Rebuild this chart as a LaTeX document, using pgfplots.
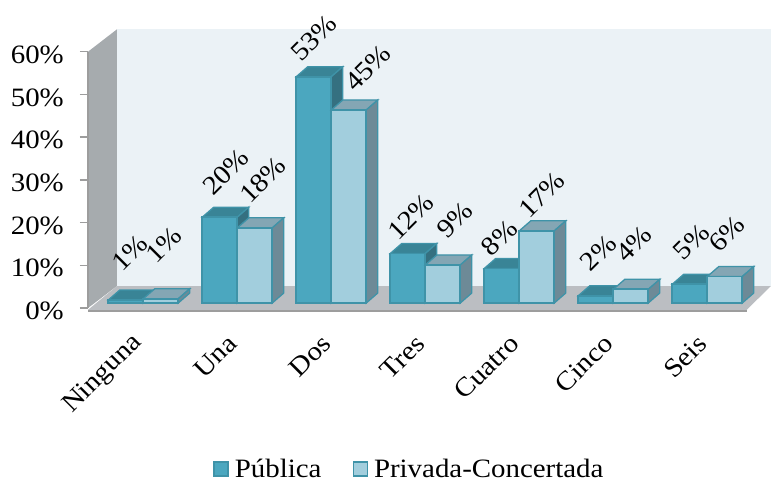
\documentclass[border=0pt]{standalone}
\usepackage{pgfplots}
\pgfplotsset{compat=1.18}
\usepackage{fontspec}
\setmainfont[FakeStretch=1.09]{Liberation Serif}
\definecolor{frontA}{HTML}{4BA7BF}
\definecolor{frontB}{HTML}{A2CEDD}
\definecolor{topA}{HTML}{398496}
\definecolor{sideA}{HTML}{357080}
\definecolor{topB}{HTML}{84A6B4}
\definecolor{sideB}{HTML}{6D8A97}
\definecolor{edge}{HTML}{3F93A8}
\definecolor{wallback}{HTML}{EBF2F6}
\definecolor{wallleft}{HTML}{A6ABAE}
\definecolor{floorc}{HTML}{BBBEC2}
\definecolor{axisc}{HTML}{9D9D9D}
\newcommand{\chartfont}{\fontsize{26.5}{30}\selectfont}
% depth faces of one bar: left-x in category units, value, top colour, side colour
\newcommand{\depth}[4]{%
  \pgfmathsetmacro{\xa}{#1}\pgfmathsetmacro{\xb}{#1+35/94}%
  \pgfmathsetmacro{\xc}{\xa+11.5/94}\pgfmathsetmacro{\xd}{\xb+11.5/94}%
  \pgfmathsetmacro{\yt}{#2}\pgfmathsetmacro{\yu}{#2+10/4.27}\pgfmathsetmacro{\yb}{10/4.27}%
  \edef\tmp{\noexpand\addplot[forget plot,fill=#3,draw=edge,line width=1.3pt] coordinates {(\xa,\yt)(\xc,\yu)(\xd,\yu)(\xb,\yt)} -- cycle;
  \noexpand\addplot[forget plot,fill=#4,draw=edge,line width=1.3pt] coordinates {(\xb,\yt)(\xd,\yu)(\xd,\yb)(\xb,0)} -- cycle;}\tmp}
\newcommand{\lab}[3]{\node[rotate=45,font=\chartfont,inner sep=0pt] at (axis cs:{(#1-143.3)/94},{(303-#2)/4.27}) {#3\%};}
\begin{document}
\begin{tikzpicture}[x=1pt,y=1pt]
\path[use as bounding box] (0,0) rectangle (771,479);
\begin{axis}[
  at={(0pt,0pt)},anchor=south west,scale only axis,width=771pt,height=479pt,
  xmin=-1.52447,xmax=6.67766,ymin=-41.218,ymax=70.96,
  axis lines=none,clip=false,
  legend style={at={(0.531,0.021)},anchor=center,draw=none,fill=none,legend columns=-1,
    font=\chartfont,/tikz/every odd column/.append style={column sep=4pt},
    /tikz/every even column/.append style={column sep=29pt},
    inner sep=0pt},
]
% walls and floor
\addplot[forget plot,fill=wallback,draw=none] coordinates {(-0.2798,64.1)(6.6777,64.1)(6.6777,3.98)(-0.2798,3.98)} -- cycle;
\addplot[forget plot,fill=wallleft,draw=none] coordinates {(-0.5883,-1.17)(-0.5883,58.85)(-0.2798,64.1)(-0.2798,3.98)} -- cycle;
\addplot[forget plot,fill=floorc,draw=none] coordinates {(-0.5883,-1.6)(6.4191,-1.6)(6.6777,3.98)(-0.2798,3.98)} -- cycle;
\addplot[forget plot,draw=axisc,line width=2.5pt] coordinates {(-0.5883,-1.9)(6.4191,-1.9)};
% Publica
\depth{-0.3723}{0.7}{topA}{sideA}
\depth{0.6277}{20.1}{topA}{sideA}
\depth{1.6277}{53}{topA}{sideA}
\depth{2.6277}{11.6}{topA}{sideA}
\depth{3.6277}{8.1}{topA}{sideA}
\depth{4.6277}{1.7}{topA}{sideA}
\depth{5.6277}{4.4}{topA}{sideA}
\addplot[ybar,bar width=35pt,bar shift=-17.5pt,fill=frontA,draw=edge,line width=1.8pt,
  legend image code/.code={\draw[fill=frontA,draw=edge,line width=1.5pt] (0pt,-7pt) rectangle (14pt,7pt);}]
  coordinates {(0,0.7)(1,20.1)(2,53)(3,11.6)(4,8.1)(5,1.7)(6,4.4)};
\addlegendentry{Pública}
% Privada-Concertada
\depth{0}{1}{topB}{sideB}
\depth{1}{17.6}{topB}{sideB}
\depth{2}{45.2}{topB}{sideB}
\depth{3}{8.9}{topB}{sideB}
\depth{4}{16.9}{topB}{sideB}
\depth{5}{3.2}{topB}{sideB}
\depth{6}{6.2}{topB}{sideB}
\addplot[ybar,bar width=35pt,bar shift=17.5pt,fill=frontB,draw=edge,line width=1.8pt,
  legend image code/.code={\draw[fill=frontB,draw=edge,line width=1.5pt] (0pt,-7pt) rectangle (14pt,7pt);}]
  coordinates {(0,1)(1,17.6)(2,45.2)(3,8.9)(4,16.9)(5,3.2)(6,6.2)};
\addlegendentry{Privada-Concertada}
% value labels
\lab{130}{253}{1}\lab{164}{245}{1}
\lab{226}{172}{20}\lab{263}{180}{18}
\lab{314}{38}{53}\lab{368}{68}{45}
\lab{411}{217}{12}\lab{455}{220}{9}
\lab{499.5}{238}{8}\lab{542}{195}{17}
\lab{598.5}{253}{2}\lab{634}{244}{4}
\lab{691.5}{241.5}{5}\lab{727}{233.5}{6}
\end{axis}
\begin{axis}[
  at={(88pt,171pt)},anchor=south west,scale only axis,width=658.7pt,height=256.3pt,
  xmin=-0.5883,xmax=6.4191,ymin=0,ymax=60,
  axis y line=left,axis x line=none,
  axis line style={draw=axisc,line width=2pt,-},
  tick style={draw=axisc,line width=1.5pt},
  ytick={0,10,20,30,40,50,60},
  yticklabels={0\%,10\%,20\%,30\%,40\%,50\%,60\%},
  tick align=outside,major tick length=8pt,
  yticklabel style={font=\chartfont,yshift=-3pt,xshift=-16pt,inner sep=0pt},
]
\end{axis}
\begin{axis}[
  at={(88pt,171pt)},anchor=south west,scale only axis,width=658.7pt,height=256.3pt,
  xmin=-0.5883,xmax=6.4191,ymin=0,ymax=60,
  axis x line=bottom,axis y line=none,
  axis line style={draw=none},
  major x tick style={draw=none},
  xtick={0,1,2,3,4,5,6},
  xticklabels={Ninguna,Una,Dos,Tres,Cuatro,Cinco,Seis},
  xticklabel style={rotate=45,anchor=east,font=\chartfont,inner sep=0pt,yshift=-17pt,xshift=-24pt},
]
\end{axis}
\end{tikzpicture}
\end{document}
